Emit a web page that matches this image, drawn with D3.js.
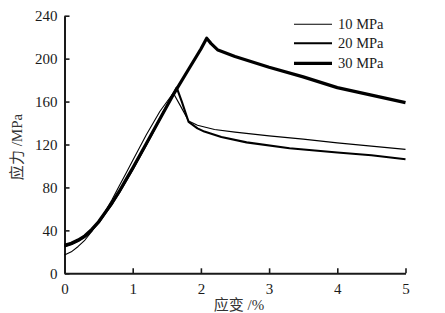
<!DOCTYPE html>
<html><head><meta charset="utf-8">
<script src="https://cdn.jsdelivr.net/npm/d3@7"></script>
<style>body{margin:0;background:#fff}svg{display:block}</style>
</head><body>
<svg id="c" width="445" height="313"></svg>
<script>
const xTicks = [0, 1, 2, 3, 4, 5];
const yTicks = [0, 40, 80, 120, 160, 200, 240];
const seriesNames = ["10 MPa", "20 MPa", "30 MPa"];
const strain10 = [0,0.1,0.2,0.3,0.4,0.5,0.6,0.7,0.8,0.9,1.0,1.2,1.4,1.595,1.7,1.82,1.95,2.2,2.5,3,3.5,4,4.5,5];
const stress10 = [17,20,25,31,39,48,58,69,81,93,105,129,151,168,156,142,138,134,131.5,128,125,121.5,118.5,115.5];
const strain20 = [0,0.1,0.2,0.3,0.4,0.5,0.6,0.7,0.8,0.9,1.0,1.2,1.4,1.55,1.645,1.72,1.82,1.95,2.05,2.3,2.67,3.3,4.0,4.5,5];
const stress20 = [25,27,30,34,40,47,56,65,75,86,97,120,144,162,173,160,141,135,132,127,122,116.5,112.5,110,106.3];
const strain30 = [0,0.1,0.2,0.3,0.4,0.5,0.6,0.7,0.8,0.9,1.0,1.2,1.4,1.6,1.8,2.0,2.085,2.15,2.25,2.5,3.0,3.5,4.0,4.5,5];
const stress30 = [26,28,31,35,41,48,57,66,76,87,98,121,144,167,188,209,219,214,208,202,192,183,173,166,159];
const widths = [1.1, 2.1, 3.2];

const SERIF = '"Liberation Serif", "DejaVu Serif", serif';
const CJK = '"Liberation Serif", "Noto Sans CJK SC", serif';

const svg = d3.select("#c");
const x = d3.scaleLinear().domain([0, 5]).range([64.5, 405.5]);
const y = d3.scaleLinear().domain([0, 240]).range([273.3, 15.7]);

const series = [
  strain10.map((d,i)=>[d, stress10[i]]),
  strain20.map((d,i)=>[d, stress20[i]]),
  strain30.map((d,i)=>[d, stress30[i]])
];
const line = d3.line().x(d=>x(d[0])).y(d=>y(d[1]));

// axes
const xAxis = svg.append("g").attr("transform", `translate(0,${y(0)})`)
  .call(d3.axisBottom(x).tickValues(xTicks).tickSizeInner(-5).tickSizeOuter(0).tickPadding(10).tickFormat(d3.format("d")));
const yAxis = svg.append("g").attr("transform", `translate(${x(0)},0)`)
  .call(d3.axisLeft(y).tickValues(yTicks).tickSizeInner(-5).tickSizeOuter(0).tickPadding(7).tickFormat(d3.format("d")));
[xAxis, yAxis].forEach(a => {
  a.style("font-family", SERIF).style("font-size", "15px");
  a.select(".domain").attr("stroke", "#1a1a1a").attr("stroke-width", 2);
  a.selectAll(".tick line").attr("stroke", "#1a1a1a").attr("stroke-width", 1.6);
  a.selectAll(".tick text").style("font-family", SERIF).style("font-size", "15px").attr("fill", "#1a1a1a");
});

// lines
series.forEach((s, i) => {
  svg.append("path").datum(s).attr("d", line).attr("fill", "none")
    .attr("stroke", "#000").attr("stroke-width", widths[i]).attr("stroke-linejoin", "round");
});

// legend
const ly = [24.3, 43.3, 63.3];
seriesNames.forEach((n, i) => {
  svg.append("line").attr("x1", 294).attr("x2", 332).attr("y1", ly[i]).attr("y2", ly[i])
    .attr("stroke", "#000").attr("stroke-width", widths[i]);
  svg.append("text").attr("x", 338).attr("y", ly[i]).attr("dy", "0.35em")
    .style("font-family", SERIF).style("font-size", "14.5px").attr("fill", "#1a1a1a").text(n);
});

// titles
svg.append("text").attr("transform", "translate(22,147) rotate(-90)").attr("text-anchor", "middle")
  .style("font-family", CJK).style("font-size", "15px").attr("fill", "#333").text("应力 /MPa");
svg.append("text").attr("x", 239).attr("y", 310).attr("text-anchor", "middle")
  .style("font-family", CJK).style("font-size", "15px").attr("fill", "#333").text("应变 /%");
</script>
</body></html>
